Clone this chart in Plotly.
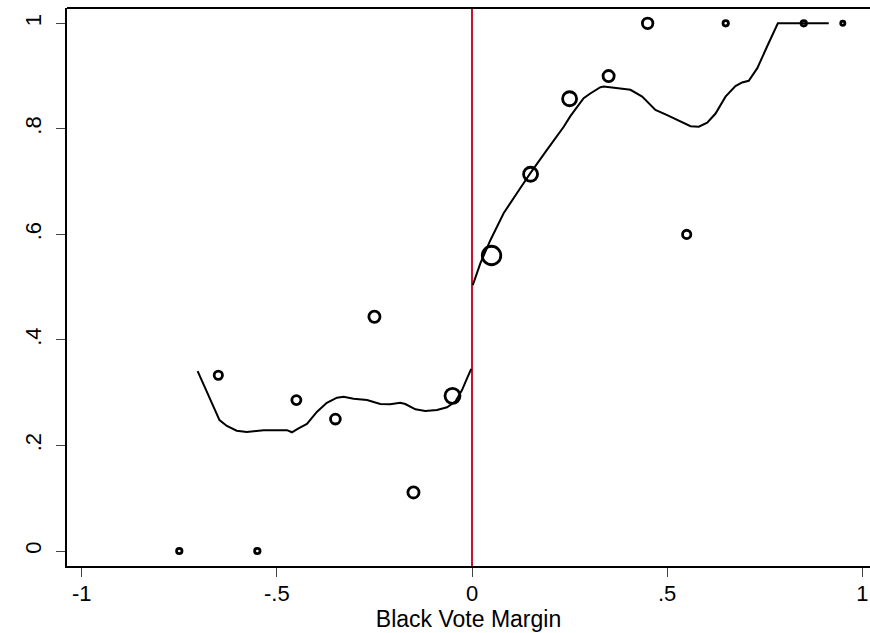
import numpy as np
import plotly.graph_objects as go

# Binned means (black vote margin bins) and bin counts
bin_x = [-0.75, -0.65, -0.55, -0.45, -0.35, -0.25, -0.15, -0.05,
         0.05, 0.15, 0.25, 0.35, 0.45, 0.55, 0.65, 0.85, 0.95]
bin_y = [0.0, 0.333, 0.0, 0.286, 0.25, 0.444, 0.111, 0.294,
         0.56, 0.714, 0.857, 0.9, 1.0, 0.6, 1.0, 1.0, 1.0]
bin_count = [3, 6, 3, 7, 8, 10, 10, 17, 25, 15, 15, 10, 9, 6, 3, 3, 2]

# Local fit, left of cutoff
left_x = [-0.703, -0.671, -0.647, -0.628, -0.603, -0.577, -0.534, -0.474, -0.4615,
          -0.4445, -0.423, -0.397, -0.372, -0.346, -0.329, -0.3035, -0.269, -0.235,
          -0.2095, -0.184, -0.171, -0.145, -0.1197, -0.0897, -0.064, -0.0428,
          -0.0256, -0.0128, -0.002]
left_y = [0.341, 0.286, 0.248, 0.237, 0.228, 0.2255, 0.229, 0.229, 0.225,
          0.2325, 0.2407, 0.264, 0.281, 0.2905, 0.2924, 0.2886, 0.286, 0.2786,
          0.278, 0.281, 0.2786, 0.2685, 0.2653, 0.2672, 0.2723, 0.283,
          0.305, 0.327, 0.345]

# Local fit, right of cutoff
right_x = [0.002, 0.0213, 0.047, 0.081, 0.115, 0.1495, 0.192, 0.235, 0.252, 0.269,
           0.286, 0.303, 0.329, 0.3375, 0.372, 0.406, 0.436, 0.470, 0.500, 0.534,
           0.560, 0.581, 0.6026, 0.624, 0.6495, 0.675, 0.692, 0.709, 0.731,
           0.756, 0.7836, 0.914]
right_y = [0.504, 0.545, 0.589, 0.640, 0.678, 0.716, 0.760, 0.804, 0.824, 0.842,
           0.858, 0.867, 0.879, 0.880, 0.877, 0.874, 0.861, 0.836, 0.826, 0.8136,
           0.805, 0.804, 0.8117, 0.829, 0.861, 0.881, 0.888, 0.891, 0.915,
           0.956, 1.0, 1.0]

x_ticks = [-1, -0.5, 0, 0.5, 1]
x_labels = ["-1", "-.5", "0", ".5", "1"]
y_ticks = [0, 0.2, 0.4, 0.6, 0.8, 1]
y_labels = ["0", ".2", ".4", ".6", ".8", "1"]

marker_sizes = [4.0 * np.sqrt(n) - 1.5 for n in bin_count]

fig = go.Figure()
fig.add_trace(go.Scatter(
    x=[0, 0], y=[-0.0284, 1.029], mode="lines",
    line=dict(color="#c8102e", width=2), hoverinfo="skip", showlegend=False,
))
fig.add_trace(go.Scatter(
    x=left_x, y=left_y, mode="lines",
    line=dict(color="black", width=2), showlegend=False,
))
fig.add_trace(go.Scatter(
    x=right_x, y=right_y, mode="lines",
    line=dict(color="black", width=2), showlegend=False,
))
fig.add_trace(go.Scatter(
    x=bin_x, y=bin_y, mode="markers",
    marker=dict(symbol="circle", size=marker_sizes, color="rgba(0,0,0,0)",
                opacity=1, line=dict(width=2.8, color="black")),
    showlegend=False,
))

tick_font = dict(family="Liberation Sans, Arial, sans-serif", size=22, color="black")
title_font = dict(family="Liberation Sans, Arial, sans-serif", size=23, color="black")

fig.add_shape(type="line", xref="paper", yref="paper", x0=0, x1=1, y0=1, y1=1,
              line=dict(color="black", width=2), layer="above")

fig.update_layout(
    width=870, height=633,
    margin=dict(l=67, r=0, t=8, b=67),
    paper_bgcolor="white", plot_bgcolor="white",
    font=tick_font,
    xaxis=dict(
        range=[-1.0377, 1.0197], tickvals=x_ticks, ticktext=x_labels,
        ticks="outside", ticklen=9, tickwidth=1, tickcolor="#444",
        showline=True, linecolor="black", linewidth=2,
        showgrid=False, zeroline=False, tickfont=tick_font,
        ticklabelstandoff=-2,
        title=dict(text="Black Vote Margin", font=title_font, standoff=0),
    ),
    yaxis=dict(
        range=[-0.0284, 1.029], tickvals=y_ticks, ticktext=y_labels,
        ticks="outside", ticklen=9, tickwidth=1, tickcolor="#444",
        showline=True, linecolor="black", linewidth=2,
        showgrid=False, zeroline=False, tickangle=-90, tickfont=tick_font,
        ticklabelstandoff=6,
    ),
)

fig.write_html("out.html")
